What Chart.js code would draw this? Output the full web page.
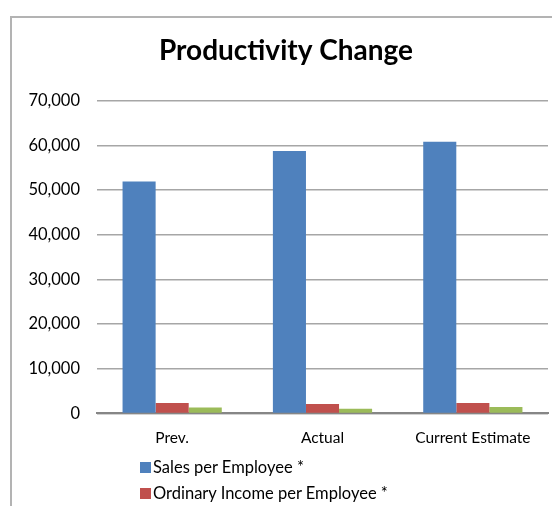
<!DOCTYPE html>
<html>
<head>
<meta charset="utf-8">
<script src="https://cdn.jsdelivr.net/npm/chart.js@4/dist/chart.umd.min.js"></script>
<style>
    html, body {
        margin: 0;
        padding: 0;
        width: 552px;
        height: 506px;
        overflow: hidden;
        background: #ffffff;
        font-family: Lato, "Noto Sans", sans-serif;
    }
    .chart-frame {
        position: absolute;
        left: 10px;
        top: 16px;
        width: 600px;
        height: 600px;
        border-left: 2px solid #b3b3b3;
        border-top: 2px solid #b3b3b3;
    }
    .chart-box {
        position: absolute;
        left: 0;
        top: 0;
        width: 552px;
        height: 466px;
    }
    .legend-list {
        position: absolute;
        left: 140px;
        top: 454px;
        margin: 0;
        padding: 0;
        list-style: none;
    }
    .legend-list li {
        display: flex;
        align-items: center;
        height: 26px;
        font-size: 16.5px;
        color: #000000;
        white-space: nowrap;
    }
    .legend-list .swatch {
        width: 11px;
        height: 11px;
        margin-right: 2px;
    }
</style>
</head>
<body>
<div class="chart-frame"></div>
<div class="chart-box"><canvas id="productivity-chart"></canvas></div>
<ul class="legend-list" id="productivity-legend"></ul>

<script>
    // Periods on the x axis
    const categories = ['Prev.', 'Actual', 'Current Estimate'];

    // Per-employee figures for each period
    const salesPerEmployee = [51900, 58700, 60800];
    const ordinaryIncomePerEmployee = [2300, 2080, 2300];
    const netIncomePerEmployee = [1340, 1030, 1410];

    const seriesNames = [
        'Sales per Employee *',
        'Ordinary Income per Employee *',
        'Net Income per Employee *'
    ];
    const seriesColors = ['#4f81bd', '#c0504d', '#9bbb59'];

    // Value axis range
    const yMin = 0;
    const yMax = 70000;
    const yStep = 10000;

    const chartFont = 'Lato, "Noto Sans", sans-serif';

    // Builds the legend as a vertical list under the chart
    const htmlLegend = {
        id: 'htmlLegend',
        afterUpdate(chart) {
            const list = document.getElementById('productivity-legend');
            list.innerHTML = '';
            const items = chart.options.plugins.legend.labels.generateLabels(chart);
            items.forEach(item => {
                const li = document.createElement('li');
                const swatch = document.createElement('span');
                swatch.className = 'swatch';
                swatch.style.background = item.fillStyle;
                const text = document.createElement('span');
                text.textContent = item.text;
                li.appendChild(swatch);
                li.appendChild(text);
                list.appendChild(li);
            });
        }
    };

    const ctx = document.getElementById('productivity-chart');

    new Chart(ctx, {
        type: 'bar',
        data: {
            labels: categories,
            datasets: [
                { label: seriesNames[0], data: salesPerEmployee, backgroundColor: seriesColors[0] },
                { label: seriesNames[1], data: ordinaryIncomePerEmployee, backgroundColor: seriesColors[1] },
                { label: seriesNames[2], data: netIncomePerEmployee, backgroundColor: seriesColors[2] }
            ]
        },
        options: {
            responsive: true,
            maintainAspectRatio: false,
            animation: false,
            layout: {
                padding: { left: 24, right: 4, top: 0, bottom: 4 }
            },
            datasets: {
                bar: {
                    categoryPercentage: 0.66,
                    barPercentage: 1.0
                }
            },
            plugins: {
                legend: { display: false },
                tooltip: { enabled: false },
                title: {
                    display: true,
                    text: 'Productivity Change',
                    color: '#000000',
                    font: { family: chartFont, size: 28, weight: 'bold' },
                    padding: { top: 34, bottom: 33 }
                }
            },
            scales: {
                x: {
                    grid: { display: false, drawTicks: false },
                    border: { display: true, color: '#868686', width: 2 },
                    ticks: {
                        color: '#000000',
                        font: { family: chartFont, size: 15.5 },
                        padding: 15,
                        maxRotation: 0
                    }
                },
                y: {
                    min: yMin,
                    max: yMax,
                    grid: {
                        drawTicks: false,
                        color: '#a6a6a6',
                        lineWidth: 1.5
                    },
                    border: { display: false },
                    ticks: {
                        stepSize: yStep,
                        color: '#000000',
                        font: { family: chartFont, size: 16.5 },
                        padding: 17,
                        callback: value => value.toLocaleString('en-US')
                    },
                    afterFit(scale) {
                        scale.width = 73;
                    }
                }
            }
        },
        plugins: [htmlLegend]
    });
</script>
</body>
</html>
